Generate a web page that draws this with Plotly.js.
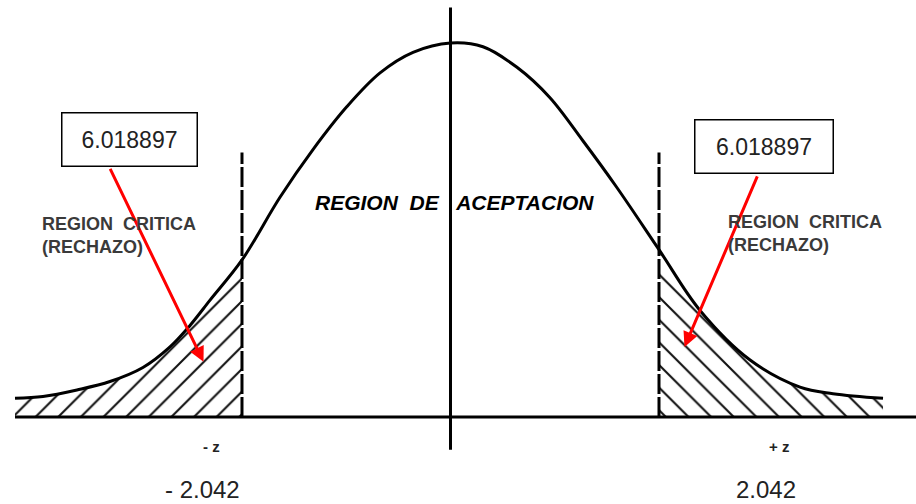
<!DOCTYPE html>
<html>
<head>
<meta charset="utf-8">
<script src="https://cdn.plot.ly/plotly-3.0.1.min.js"></script>
<style>
  body { margin: 0; background: #fff; }
  #graph { width: 916px; height: 504px; }
</style>
</head>
<body>
<div id="graph"></div>
<script>
// Curve (x in z units, y in density units)
const curveX = [-4.265, -3.991, -3.658, -3.335, -3.012, -2.747, -2.551, -2.355, -2.042, -1.670, -1.347, -1.014, -0.690, -0.367, 0,
                0.318, 0.651, 0.970, 1.293, 1.626, 2.042, 2.444, 2.934, 3.423, 3.746, 4.236];
const curveY = [0.020, 0.022, 0.029, 0.038, 0.053, 0.075, 0.098, 0.125, 0.168, 0.235, 0.286, 0.332, 0.368, 0.390, 0.400,
                0.396, 0.374, 0.342, 0.296, 0.246, 0.179, 0.114, 0.061, 0.032, 0.025, 0.020];

const criticalZ = 2.042;
const statValue = '6.018897';
const zLabels = ['- z', '+ z'];
const criticalLabels = ['- ' + criticalZ.toFixed(3), criticalZ.toFixed(3)];
const regionCritica = 'REGION\u00a0\u00a0CRITICA<br>(RECHAZO)';
const regionAceptacion = 'REGION\u00a0\u00a0DE\u00a0\u00a0\u00a0ACEPTACION';

// Tails: subsets of the curve beyond the critical values
const leftX = [], leftY = [], rightX = [], rightY = [];
curveX.forEach((x, i) => {
    if (x <= -criticalZ) { leftX.push(x); leftY.push(curveY[i]); }
    if (x >= criticalZ) { rightX.push(x); rightY.push(curveY[i]); }
});

const tailLeft = {
    x: leftX, y: leftY, type: 'scatter', mode: 'lines',
    line: { width: 0, shape: 'spline' },
    fill: 'tozeroy', fillcolor: 'rgba(0,0,0,0)',
    fillpattern: { shape: '/', size: 16, solidity: 0.13, fgcolor: '#111', bgcolor: 'white' },
    hoverinfo: 'skip'
};

const tailRight = {
    x: rightX, y: rightY, type: 'scatter', mode: 'lines',
    line: { width: 0, shape: 'spline' },
    fill: 'tozeroy', fillcolor: 'rgba(0,0,0,0)',
    fillpattern: { shape: '\\', size: 16, solidity: 0.13, fgcolor: '#111', bgcolor: 'white' },
    hoverinfo: 'skip'
};

const curve = {
    x: curveX, y: curveY, type: 'scatter', mode: 'lines',
    line: { color: 'black', width: 3, shape: 'spline' },
    hoverinfo: 'skip'
};

const shapes = [
    // baseline
    { type: 'line', xref: 'x', yref: 'y', x0: -4.265, x1: 4.6, y0: 0, y1: 0, line: { color: 'black', width: 3 } },
    // centre line
    { type: 'line', xref: 'x', yref: 'y', x0: 0, x1: 0, y0: -0.035, y1: 0.438, line: { color: 'black', width: 3 } },
    // critical values
    { type: 'line', xref: 'x', yref: 'y', x0: -criticalZ, x1: -criticalZ, y0: 0, y1: 0.283,
      line: { color: 'black', width: 3, dash: '20px,3px' } },
    { type: 'line', xref: 'x', yref: 'y', x0: criticalZ, x1: criticalZ, y0: 0, y1: 0.283,
      line: { color: 'black', width: 3, dash: '20px,3px' } }
];

const boxFont = { family: 'Liberation Sans, Arial, sans-serif', size: 23, color: '#222' };
const critFont = { family: 'Liberation Sans, Arial, sans-serif', size: 18, color: '#3a3a3a', weight: 'bold' };
const zFont = { family: 'Liberation Sans, Arial, sans-serif', size: 15, color: '#222', weight: 'bold' };
const valFont = { family: 'Liberation Sans, Arial, sans-serif', size: 24, color: '#222' };

const annotations = [
    // red arrows
    { x: -2.419, y: 0.059, ax: -3.340, ay: 0.267, xref: 'x', yref: 'y', axref: 'x', ayref: 'y',
      text: '', showarrow: true, arrowhead: 2, arrowsize: 1, arrowwidth: 3, arrowcolor: 'red' },
    { x: 2.292, y: 0.075, ax: 3.011, ay: 0.259, xref: 'x', yref: 'y', axref: 'x', ayref: 'y',
      text: '', showarrow: true, arrowhead: 2, arrowsize: 1, arrowwidth: 3, arrowcolor: 'red' },
    // value boxes
    { x: -3.139, y: 0.297, text: statValue, showarrow: false, font: boxFont,
      width: 134, height: 52, bordercolor: 'black', borderwidth: 1.5, borderpad: 0, bgcolor: 'white' },
    { x: 3.075, y: 0.289, text: statValue, showarrow: false, font: boxFont,
      width: 137, height: 52, bordercolor: 'black', borderwidth: 1.5, borderpad: 0, bgcolor: 'white' },
    // region labels
    { x: -4.020, y: 0.194, text: regionCritica, showarrow: false, xanchor: 'left', align: 'left', font: critFont },
    { x: 2.698, y: 0.196, text: regionCritica, showarrow: false, xanchor: 'left', align: 'left', font: critFont },
    { x: 0.04, y: 0.229, text: regionAceptacion, showarrow: false,
      font: { family: 'Liberation Sans, Arial, sans-serif', size: 21, color: 'black', weight: 'bold', style: 'italic' } },
    // z labels
    { x: -2.336, y: -0.032, text: zLabels[0], showarrow: false, font: zFont },
    { x: 3.217, y: -0.032, text: zLabels[1], showarrow: false, font: zFont },
    { x: -2.424, y: -0.078, text: criticalLabels[0], showarrow: false, font: valFont },
    { x: 3.090, y: -0.078, text: criticalLabels[1], showarrow: false, font: valFont }
];

const hidden = { showgrid: false, zeroline: false, showticklabels: false, showline: false, ticks: '', fixedrange: true };

const layout = {
    width: 916, height: 504,
    margin: { l: 0, r: 0, t: 0, b: 0 },
    paper_bgcolor: 'white', plot_bgcolor: 'white',
    showlegend: false,
    xaxis: Object.assign({ range: [-4.412, 4.559] }, hidden),
    yaxis: Object.assign({ range: [-0.093, 0.446] }, hidden),
    shapes: shapes,
    annotations: annotations
};

Plotly.newPlot('graph', [tailLeft, tailRight, curve], layout, { displayModeBar: false, staticPlot: true });
</script>
</body>
</html>
